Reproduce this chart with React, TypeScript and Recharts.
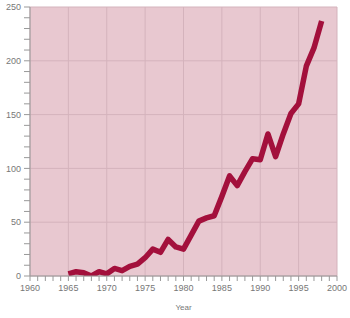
import React from 'react';
import {
  LineChart,
  Line,
  XAxis,
  YAxis,
  CartesianGrid,
} from 'recharts';

// Values
const years = [
  1965, 1966, 1967, 1968, 1969, 1970, 1971, 1972, 1973, 1974,
  1975, 1976, 1977, 1978, 1979, 1980, 1981, 1982, 1983, 1984,
  1985, 1986, 1987, 1988, 1989, 1990, 1991, 1992, 1993, 1994,
  1995, 1996, 1997, 1998,
];
const values = [
  2, 4, 3, 0, 4, 2, 7, 5, 9, 11,
  17, 25, 22, 34, 27, 25, 38, 51, 54, 56,
  74, 93, 84, 97, 109, 108, 132, 111, 132, 151,
  160, 195, 212, 237,
];

const xTicks = [1960, 1965, 1970, 1975, 1980, 1985, 1990, 1995, 2000];
const yTicks = [0, 50, 100, 150, 200, 250];
const xDomain = [1960, 2000];
const yDomain = [0, 250];

// minor tick marks (one per year / every 10 units); only the major ones get a label
const range = (from: number, to: number, step: number) => {
  const out: number[] = [];
  for (let v = from; v <= to; v += step) out.push(v);
  return out;
};
const xMinor = range(1960, 2000, 1);
const yMinor = range(0, 250, 10);

const data = years.map((year, i) => ({ year, value: values[i] }));

const axisColor = '#999999';
const font = 'Liberation Sans, Arial, sans-serif';
const textColor = '#777777';

const XTick = ({ x, y, payload }: any) => {
  if (!xTicks.includes(payload.value)) return <g />;
  return (
    <text x={x} y={y} dy="0.71em" textAnchor="middle" fontSize={9} fill={textColor} fontFamily={font}>
      {payload.value}
    </text>
  );
};

const YTick = ({ x, y, payload }: any) => {
  if (!yTicks.includes(payload.value)) return <g />;
  return (
    <text x={x} y={y} dy="0.355em" textAnchor="end" fontSize={9} fill={textColor} fontFamily={font}>
      {payload.value}
    </text>
  );
};

// grid only on the labelled ticks
const gridX = ({ offset }: any) =>
  xTicks.map((t) => offset.left + ((t - xDomain[0]) / (xDomain[1] - xDomain[0])) * offset.width);
const gridY = ({ offset }: any) =>
  yTicks.map((t) => offset.top + offset.height - ((t - yDomain[0]) / (yDomain[1] - yDomain[0])) * offset.height);

const App: React.FC = () => {
  return (
    <div style={{ position: 'absolute', left: 0, top: 0, width: 350, height: 318, background: '#fff' }}>
      <LineChart
        width={350}
        height={318}
        data={data}
        margin={{ top: 7, right: 13, bottom: 0, left: 0 }}
      >
        <CartesianGrid
          stroke="#d4b3bc"
          strokeWidth={1}
          fill="#e8c8d0"
          fillOpacity={1}
          verticalCoordinatesGenerator={gridX}
          horizontalCoordinatesGenerator={gridY}
        />
        <XAxis
          dataKey="year"
          type="number"
          domain={xDomain}
          ticks={xMinor}
          interval={0}
          tick={<XTick />}
          tickLine={{ stroke: axisColor }}
          axisLine={{ stroke: axisColor }}
          tickSize={5}
          tickMargin={4}
          height={42}
          label={{ value: 'Year', position: 'insideBottom', offset: 8, fontSize: 8, fill: textColor, fontFamily: font }}
          allowDataOverflow
        />
        <YAxis
          type="number"
          domain={yDomain}
          ticks={yMinor}
          interval={0}
          tick={<YTick />}
          tickLine={{ stroke: axisColor }}
          axisLine={{ stroke: axisColor }}
          tickSize={6}
          tickMargin={3}
          width={30}
          allowDataOverflow
        />
        <Line
          dataKey="value"
          type="linear"
          stroke="#a3103c"
          strokeWidth={5.5}
          strokeLinejoin="round"
          dot={false}
          activeDot={false}
          isAnimationActive={false}
        />
      </LineChart>
    </div>
  );
};

export default App;
